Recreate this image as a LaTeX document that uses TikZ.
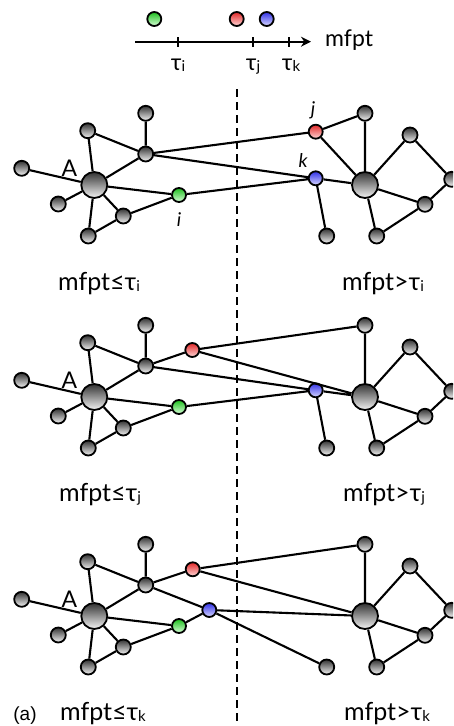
\documentclass[tikz,border=0pt]{standalone}
\usepackage{fontspec}
\setmainfont{Lato}
\newfontfamily\capfont{Liberation Sans}
\usetikzlibrary{arrows.meta}
\definecolor{redtop}{RGB}{225,40,40}
\definecolor{redbot}{RGB}{255,215,215}
\definecolor{greentop}{RGB}{30,190,30}
\definecolor{greenbot}{RGB}{215,255,215}
\definecolor{bluetop}{RGB}{50,50,230}
\definecolor{bluebot}{RGB}{215,215,255}
\newcommand\tsub[1]{\raisebox{-1.5pt}{\fontsize{15}{15}\selectfont #1}}
\tikzset{
  ball/.style={circle, draw=black, line width=1.8pt, minimum size=15pt, inner sep=0pt,
    top color=black!80, bottom color=black!4},
  bigball/.style={ball, minimum size=26pt},
  rball/.style={ball, minimum size=14pt, top color=redtop, bottom color=redbot},
  gball/.style={ball, minimum size=14pt, top color=greentop, bottom color=greenbot},
  bball/.style={ball, minimum size=14pt, top color=bluetop, bottom color=bluebot},
  edge/.style={line width=2.1pt, black},
  lbl/.style={inner sep=0pt, font=\fontsize{23}{23}\selectfont},
  ilbl/.style={inner sep=0pt, font=\fontsize{19}{19}\selectfont\itshape},
  captext/.style={inner sep=0pt, anchor=base, font=\fontsize{25}{25}\selectfont},
  divider/.style={line width=2.4pt, dash pattern=on 8pt off 5pt},
}
\newcommand\mynet[3]{%
  \node[bigball] (#1A) at (94.3,185) {};
  \node[ball] (#1L1) at (21.7,168.3) {};
  \node[ball] (#1L2) at (58.3,204) {};
  \node[ball] (#1U1) at (87.7,130.7) {};
  \node[ball] (#1H2) at (145.7,154) {};
  \node[ball] (#1T1) at (145.7,113.3) {};
  \node[ball] (#1B) at (123.3,216) {};
  \node[ball] (#1Bot) at (88.3,236) {};
  \node[gball] (#1G) at (179,195) {};
  \node[bigball] (#1RH) at (365,185) {};
  \node[ball] (#1R1) at (365,113.3) {};
  \node[ball] (#1R2) at (410,135) {};
  \node[ball] (#1R3) at (451.7,179.3) {};
  \node[ball] (#1R4) at (425,204.3) {};
  \node[ball] (#1R5) at (376.7,236) {};
  \node[ball] (#1K) at (326.7,236) {};
  \node[rball] (#1Red) at (#2) {};
  \node[bball] (#1Blue) at (#3) {};
  \node[lbl] (#1Alab) at (69.3,168.3) {A};
  \draw[edge] (#1A) -- (#1L1) (#1A) -- (#1L2) (#1A) -- (#1U1) (#1A) -- (#1H2)
    (#1A) -- (#1B) (#1A) -- (#1Bot) (#1A) -- (#1G) (#1U1) -- (#1H2) (#1H2) -- (#1T1)
    (#1B) -- (#1Bot) (#1B) -- (#1G) (#1G) -- (#1Blue) (#1H2) -- (#1Blue) (#1H2) -- (#1Red)
    (#1Red) -- (#1R1) (#1Red) -- (#1RH) (#1Blue) -- (#1RH) (#1Blue) -- (#1K)
    (#1RH) -- (#1R1) (#1RH) -- (#1R2) (#1RH) -- (#1R4) (#1RH) -- (#1R5)
    (#1R2) -- (#1R3) (#1R3) -- (#1R4) (#1R4) -- (#1R5);
}
\begin{document}
\begin{tikzpicture}[x=1pt,y=-1pt]
\useasboundingbox (0,0) rectangle (453,726);
\clip (0,0) rectangle (453,726);
% divider
\coordinate (dtop) at (237,89);
\coordinate (dbot) at (237,726);
\draw[divider] (dtop) -- (dbot);
% legend axis
\coordinate (ax0) at (135,41.7);
\coordinate (ax1) at (311,41.7);
\draw[edge, -{Stealth[length=10pt,width=10pt]}] (ax0) -- (ax1);
\foreach \tx/\nm in {178.3/ti, 253.3/tj, 289/tk}{
  \coordinate (\nm a) at (\tx,37);
  \coordinate (\nm b) at (\tx,46.5);
  \draw[edge] (\nm a) -- (\nm b);
}
\node[captext, anchor=base west, font=\fontsize{23}{23}\selectfont] (mfptlab) at (325,46) {mfpt};
\node[captext, font=\fontsize{23}{23}\selectfont] (lti) at (178,70) {τ\tsub{i}};
\node[captext, font=\fontsize{23}{23}\selectfont] (ltj) at (253,70) {τ\tsub{j}};
\node[captext, font=\fontsize{23}{23}\selectfont] (ltk) at (291,70) {τ\tsub{k}};
\node[gball] (legG) at (154.3,19) {};
\node[rball] (legR) at (236.7,19) {};
\node[bball] (legB) at (266.7,19) {};
% networks
\mynet{a}{315.7,131.7}{315.7,178.3}
\node[ilbl] (labi) at (179,220) {i};
\node[ilbl] (labj) at (313,110) {j};
\node[ilbl] (labk) at (303,160) {k};
\begin{scope}[shift={(0,212)}]
\mynet{b}{192.3,138}{315.7,178.3}
\end{scope}
\begin{scope}[shift={(0,431)}]
\mynet{c}{192.7,138.3}{209.3,179}
\end{scope}
% captions
\node[captext] (c1l) at (99,290) {mfpt≤τ\tsub{i}};
\node[captext] (c1r) at (383,290) {mfpt>τ\tsub{i}};
\node[captext] (c2l) at (100,501) {mfpt≤τ\tsub{j}};
\node[captext] (c2r) at (384,501) {mfpt>τ\tsub{j}};
\node[captext] (c3l) at (103,720) {mfpt≤τ\tsub{k}};
\node[captext] (c3r) at (387,720) {mfpt>τ\tsub{k}};
\node[captext, font=\capfont\fontsize{19}{19}\selectfont] (alab) at (25,720) {(a)};
\end{tikzpicture}
\end{document}
